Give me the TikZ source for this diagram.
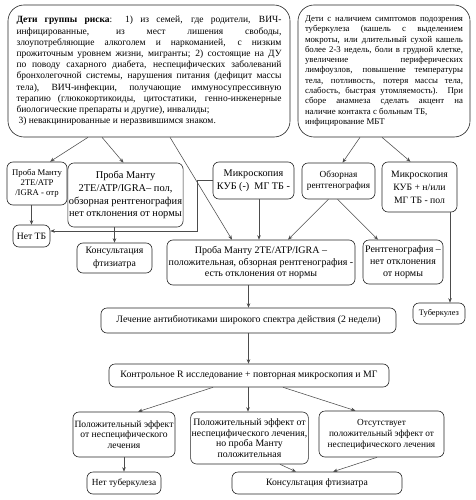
\documentclass[tikz,border=0pt]{standalone}
\usepackage{fontspec}
\setmainfont{Liberation Serif}
\usetikzlibrary{arrows.meta,calc}
\newcommand{\fs}[2]{\fontsize{#1}{#2}\selectfont}
\begin{document}
\begin{tikzpicture}[x=1pt,y=-1pt,
  box/.style={draw=black!85,line width=0.6pt,rounded corners=6pt,align=center,inner sep=1pt,
    font=\fs{9.7}{11.5}},
  big/.style={box,rounded corners=16pt,align=justify},
  arr/.style={draw=black!70,line width=0.55pt,-{Stealth[length=4.5pt,width=3.5pt]}},
  ln/.style={draw=black!70,line width=0.55pt}]
\useasboundingbox[fill=white] (0,0) rectangle (475,500);

\node[big,minimum width=282pt,minimum height=132pt,text width=265pt,
  font=\fs{9.5}{11.2}] (risk) at (149,71)
{\textbf{Дети группы риска}: 1) из семей, где родители, ВИЧ-\linebreak
инфицированные, из мест лишения свободы,\linebreak
злоупотребляющие алкоголем и наркоманией, с низким\linebreak
прожиточным уровнем жизни, мигранты; 2) состоящие на ДУ\linebreak
по поводу сахарного диабета, неспецифических заболеваний\linebreak
бронхолегочной системы, нарушения питания (дефицит массы\linebreak
тела), ВИЧ-инфекции, получающие иммуносупрессивную\linebreak
терапию (глюкокортикоиды, цитостатики, генно-инженерные\linebreak
биологические препараты и другие), инвалиды;\\
\hspace*{2pt}3) невакцинированные и неразвившимся знаком.};

\node[big,minimum width=172pt,minimum height=132pt,text width=158pt,font=\fs{8.8}{10.3}] (symp) at (384,71)
{Дети с наличием симптомов подозрения\linebreak
туберкулеза (кашель с выделением\linebreak
мокроты, или длительный сухой кашель\linebreak
более 2-3 недель, боли в грудной клетке,\linebreak
увеличение периферических\linebreak
лимфоузлов, повышение температуры\linebreak
тела, потливость, потеря массы тела,\linebreak
слабость, быстрая утомляемость). При\linebreak
сборе анамнеза сделать акцент на\linebreak
наличие контакта с больным ТБ,\\
инфицирование МБТ};

\node[box,minimum width=60pt,minimum height=43pt,font=\fs{8.7}{10}] (mantuneg) at (37,183.5)
{Проба Манту\\2TE/ATP\\/IGRA - отр};
\node[box,minimum width=115pt,minimum height=64pt,font=\fs{10.4}{12.8}] (mantupos) at (125.5,195)
{Проба Манту\\2TE/ATP/IGRA– пол,\\обзорная рентгенография\\нет отклонения от нормы};
\node[box,minimum width=37pt,minimum height=22pt] (netTB) at (31.5,236) {Нет ТБ};
\node[box,minimum width=75pt,minimum height=30pt,font=\fs{9.8}{12.7}] (konsult1) at (114.5,258)
{Консультация\\фтизиатра};
\node[box,minimum width=81pt,minimum height=37pt,font=\fs{10.2}{13.3}] (microneg) at (253.5,180.5)
{Микроскопия\\КУБ (-)\ \ МГ ТБ -};
\node[box,minimum width=73pt,minimum height=36pt,font=\fs{9.3}{11}] (xray) at (338.5,181)
{Обзорная\\рентгенография};
\node[box,minimum width=75pt,minimum height=50pt,font=\fs{9.7}{13}] (micropos) at (419.5,187)
{Микроскопия\\КУБ + н/или\\МГ ТБ - пол};
\node[box,minimum width=188pt,minimum height=45pt,font=\fs{10}{11.7}] (mantuxray) at (261,262.5)
{Проба Манту 2TE/ATP/IGRA –\\положительная, обзорная рентгенография -\\есть отклонения от нормы};
\node[box,minimum width=80pt,minimum height=44pt,font=\fs{10}{11.7}] (xraynorm) at (403,262)
{Рентгенография –\\нет отклонения\\от нормы};
\node[box,minimum width=52pt,minimum height=21pt,font=\fs{8.4}{10}] (tb) at (439,313.5) {Туберкулез};
\node[box,minimum width=295pt,minimum height=25pt,font=\fs{9.8}{11}] (antib) at (248.5,320.5)
{Лечение антибиотиками широкого спектра действия (2 недели)};
\node[box,minimum width=280pt,minimum height=23pt,font=\fs{9.8}{11}] (control) at (249,375.5)
{Контрольное R исследование + повторная микроскопия и МГ};
\node[box,minimum width=102pt,minimum height=45pt,font=\fs{9.6}{10.6}] (poseff) at (124,434.5)
{Положительный эффект\\от неспецифического\\лечения};
\node[box,minimum width=117pt,minimum height=52pt,font=\fs{9.8}{10.6}] (posmantu) at (249.5,438)
{Положительный эффект от\\неспецифического лечения,\\но проба Манту\\положительная};
\node[box,minimum width=125pt,minimum height=46pt,font=\fs{9.3}{11}] (noeff) at (381.5,434)
{Отсутствует\\положительный эффект от\\неспецифического лечения};
\node[box,minimum width=74pt,minimum height=22pt,font=\fs{9.3}{11}] (noTB) at (124,483) {Нет туберкулеза};
\node[box,minimum width=170pt,minimum height=22pt] (konsult2) at (317,483) {Консультация фтизиатра};

% connectors
\draw[arr] ([xshift=-61pt]risk.south) -- ([xshift=13pt]mantuneg.north);
\draw[arr] ([xshift=-47pt]risk.south) -- ([xshift=-2pt]mantupos.north);
\draw[arr] ([xshift=21pt]risk.south) -- ([xshift=-29pt]mantuxray.north);
\draw[arr] ([xshift=-24pt]symp.south) -- ([xshift=4pt]xray.north);
\draw[arr] ([xshift=-2pt]symp.south) -- ([xshift=-9pt]micropos.north);
\draw[arr] (mantuneg.south -| netTB.north) -- (netTB.north);
\draw[arr] (konsult1.north |- mantupos.south) -- (konsult1.north);
\draw[arr] (microneg.west) -- ++(-15,0) |- ([yshift=5pt]netTB.east);
\draw[arr] ([xshift=5.5pt]microneg.south) -- ([xshift=5.5pt]microneg.south |- mantuxray.north);
\draw[arr] ([xshift=-10pt]xray.south) -- ([xshift=27pt]mantuxray.north);
\draw[arr] ([xshift=-1pt]xray.south) -- ([xshift=-25pt]xraynorm.north);
\draw[arr] ([xshift=30.5pt]micropos.south) -- ([xshift=30.5pt]micropos.south |- tb.north);
\draw[arr] (antib.north |- mantuxray.south) -- (antib.north);
\draw[arr] (antib.south) -- (antib.south |- control.north);
\draw[arr] ([xshift=-36pt]control.south) -- ([xshift=14pt]poseff.north);
\draw[arr] ([xshift=-1pt]control.south) -- ([xshift=-1pt]control.south |- posmantu.north);
\draw[arr] ([xshift=34pt]control.south) -- ([xshift=-26pt]noeff.north);
\draw[arr] (poseff.south) -- (noTB.north);
\draw[arr] ([xshift=30.5pt]posmantu.south) -- ([xshift=-21pt]konsult2.north);
\draw[arr] ([xshift=-4.5pt]noeff.south) -- ([xshift=16pt]konsult2.north);
\end{tikzpicture}
\end{document}
